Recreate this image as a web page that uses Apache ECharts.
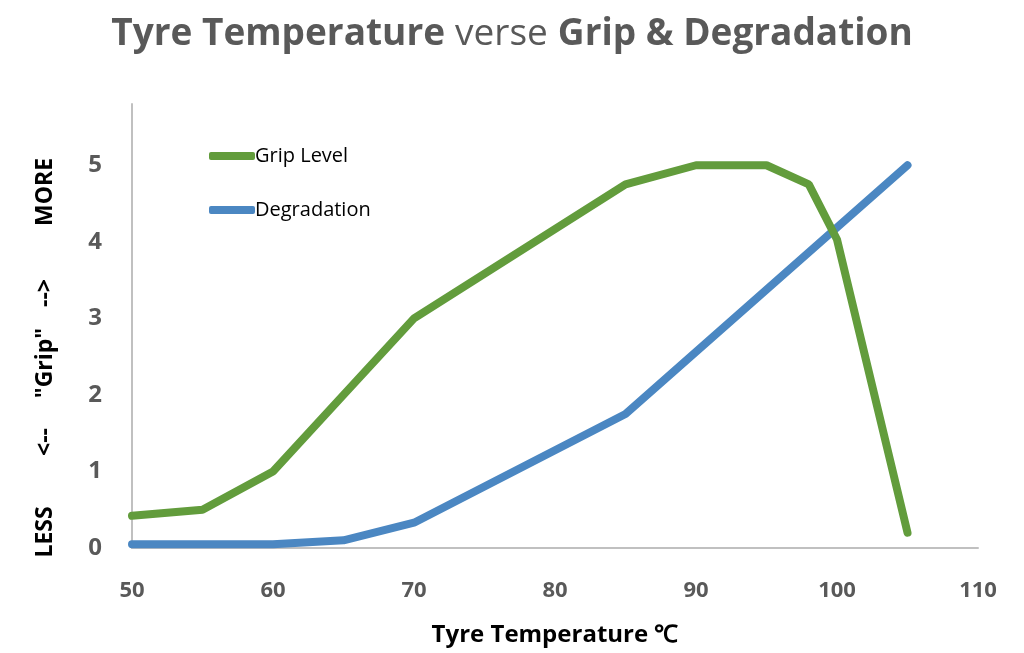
<!DOCTYPE html>
<html>
<head>
<meta charset="utf-8">
<script src="https://cdn.jsdelivr.net/npm/echarts@6/dist/echarts.min.js"></script>
<style>
  html, body { margin: 0; padding: 0; background: #fff; }
  #mainChart { width: 1024px; height: 653px; }
</style>
</head>
<body>
<div id="mainChart"></div>
<script>
// temperatures (°C) and values
var gripTemps = [50, 55, 60, 65, 70, 85, 90, 95, 98, 100, 105];
var gripLevel = [0.42, 0.5, 1, 2, 3, 4.75, 5, 5, 4.75, 4.03, 0.2];
var degTemps = [50, 55, 60, 65, 70, 85, 105];
var degradation = [0.05, 0.05, 0.05, 0.1, 0.33, 1.75, 5];
var yNameParts = ["LESS", "<--", "\"Grip\"", "-->", "MORE"];

function pairs(xs, ys) {
  return xs.map(function (x, i) { return [x, ys[i]]; });
}

var chart = echarts.init(document.getElementById("mainChart"));

// y-axis name pieces, spread along the left edge
var yNameY = [532, 442, 363, 293, 192];
var yNameGraphics = yNameParts.map(function (t, i) {
  return {
    type: "text",
    x: 45,
    y: yNameY[i],
    rotation: Math.PI / 2,
    style: {
      text: t,
      fill: "#000",
      font: "bold 23px 'Open Sans'",
      align: "center",
      verticalAlign: "middle",
    },
  };
});

var option = {
  animation: false,
  title: {
    text: "{b|Tyre Temperature}  {n|verse}  {b|Grip & Degradation}",
    left: "center",
    top: 11,
    textStyle: {
      rich: {
        b: { fontFamily: "Open Sans", fontWeight: "bold", fontSize: 37, color: "#595959" },
        n: { fontFamily: "Open Sans", fontWeight: "normal", fontSize: 37, color: "#595959" },
      },
    },
  },
  legend: {
    orient: "vertical",
    left: 204,
    top: 141,
    itemWidth: 46,
    itemHeight: 8,
    itemGap: 34,
    icon: "roundRect",
    textStyle: { fontFamily: "Open Sans", fontSize: 20, color: "#000", padding: [0, 0, 0, -5] },
    data: ["Grip Level", "Degradation"],
  },
  grid: {
    left: 132,
    right: 46,
    top: 104,
    bottom: 105,
  },
  xAxis: {
    type: "value",
    min: 50,
    max: 110,
    interval: 10,
    axisLine: { lineStyle: { color: "#c0c0c0", width: 2 } },
    axisTick: { show: false },
    splitLine: { show: false },
    axisLabel: {
      color: "#595959",
      fontFamily: "Open Sans",
      fontWeight: "bold",
      fontSize: 22,
      margin: 32,
    },
    name: "Tyre Temperature \u2103",
    nameLocation: "middle",
    nameGap: 75,
    nameTextStyle: { color: "#000", fontFamily: "Open Sans", fontWeight: "bold", fontSize: 24 },
  },
  yAxis: {
    type: "value",
    min: 0,
    max: 5.8,
    interval: 1,
    axisLine: { show: true, lineStyle: { color: "#c0c0c0", width: 2 } },
    axisTick: { show: false },
    splitLine: { show: false },
    axisLabel: {
      color: "#595959",
      fontFamily: "Open Sans",
      fontWeight: "bold",
      fontSize: 24,
      margin: 30,
      showMaxLabel: false,
      formatter: function (v) { return v % 1 === 0 ? v : ""; },
    },
  },
  graphic: yNameGraphics,
  series: [
    {
      name: "Grip Level",
      type: "line",
      data: pairs(gripTemps, gripLevel),
      showSymbol: false,
      color: "#629c3c",
      lineStyle: { color: "#629c3c", width: 8, cap: "round" },
      z: 3,
    },
    {
      name: "Degradation",
      type: "line",
      data: pairs(degTemps, degradation),
      showSymbol: false,
      color: "#4b87c2",
      lineStyle: { color: "#4b87c2", width: 8, cap: "round" },
      z: 2,
    },
  ],
};
chart.setOption(option);
</script>
</body>
</html>
